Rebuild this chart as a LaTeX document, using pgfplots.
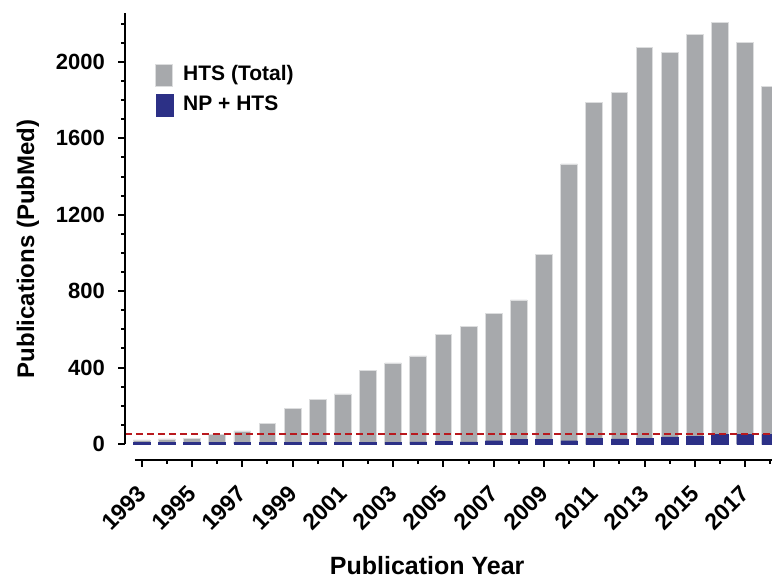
\documentclass[border=0pt]{standalone}
\usepackage{pgfplots}
\pgfplotsset{compat=1.18}
\usepackage{fontspec}
\setmainfont{Liberation Sans}
\definecolor{htsgray}{RGB}{167,169,172}
\definecolor{npnavy}{RGB}{44,48,134}
\definecolor{refred}{RGB}{185,25,30}
\begin{document}
\begin{tikzpicture}
\useasboundingbox (0,0) rectangle (386pt,289pt);
\begin{axis}[
  at={(62.5pt,59pt)}, anchor=south west,
  scale only axis, width=323.5pt, height=223.65pt,
  xmin=1992.336, xmax=2018.07, ymin=-84, ymax=2258,
  axis lines*=left,
  axis line style={draw=none},
  clip=false,
  tick align=outside,
  major tick length=3.5pt, minor tick length=2pt,
  every tick/.style={black, line width=1pt},
  xtick={1993,1995,...,2017},
  minor xtick={1994,1996,...,2018},
  ytick={0,400,...,2000},
  minor ytick={100,200,...,2200},
  scaled ticks=false,
  /pgf/number format/1000 sep={},
  /pgf/number format/assume math mode=true,
  xticklabel shift=9pt,
  yticklabel shift=3pt,
  x tick label style={xshift=2.5pt, rotate=45, anchor=east, font=\bfseries\fontsize{11.5}{13}\selectfont},
  y tick label style={font=\bfseries\fontsize{11}{13}\selectfont},
  xlabel={Publication Year},
  ylabel={Publications (PubMed)},
  xlabel style={font=\bfseries\fontsize{12.5}{14}\selectfont, at={(axis description cs:0.467,-0.235)}, anchor=center},
  ylabel style={font=\bfseries\fontsize{12}{14}\selectfont, at={(axis description cs:-0.15,0.472)}, anchor=center},
  legend style={at={(axis description cs:0.0464,0.887)}, anchor=north west, draw=none, fill=none,
    font=\bfseries\fontsize{10.5}{12}\selectfont, inner sep=0pt, row sep=3.4pt, column sep=4pt,
    nodes={inner sep=1pt, text height=7.6pt, text depth=2pt}},
  legend cell align=left,
  legend image code/.code={\fill[#1] (0pt,-5.5pt) rectangle (8.5pt,5.5pt);},
]
\addplot[ybar, bar width=0.665, bar shift=0pt, fill=htsgray, draw=white!60!htsgray, line width=0.4pt]
coordinates {
(1993,21) (1994,26) (1995,31) (1996,51) (1997,68) (1998,108) (1999,185) (2000,234)
(2001,262) (2002,387) (2003,424) (2004,461) (2005,571) (2006,613) (2007,681) (2008,754)
(2009,990) (2010,1466) (2011,1787) (2012,1841) (2013,2075) (2014,2049) (2015,2143)
(2016,2208) (2017,2101) (2018,1871)
};
\addlegendentry{HTS (Total)}
\addplot[ybar, bar width=0.665, bar shift=0pt, fill=npnavy, draw=npnavy, line width=0.2pt]
coordinates {
(1993,10) (1994,10) (1995,10) (1996,10) (1997,10) (1998,10) (1999,10) (2000,10)
(2001,10) (2002,10) (2003,10) (2004,11) (2005,14) (2006,11) (2007,17) (2008,23)
(2009,23) (2010,17) (2011,31) (2012,26) (2013,31) (2014,37) (2015,41)
(2016,49) (2017,49) (2018,49)
};
\addlegendentry{NP + HTS}
\addplot[refred, line width=1.1pt, dash pattern=on 3.5pt off 2pt, forget plot]
coordinates {(1992.336,52) (2018.07,52)};
\draw[line width=1.2pt] (axis cs:1992.336,0) -- (axis cs:1992.336,2258);
\draw[line width=1.2pt] (axis cs:1992.73,-84) -- (axis cs:2018.07,-84);
\end{axis}
\end{tikzpicture}
\end{document}
